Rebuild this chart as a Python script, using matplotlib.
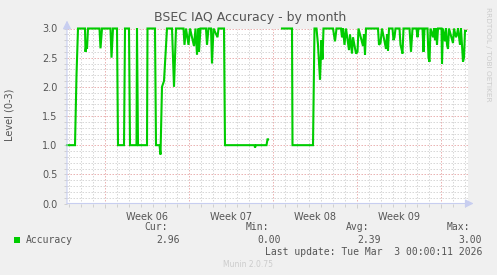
import numpy as np
import matplotlib
matplotlib.use('Agg')
import matplotlib.pyplot as plt
from matplotlib.ticker import FixedLocator

# hours since start of graph (Thu Jan 29 2026), 2 h per sample
hours = [0, 16, 19, 22, 36, 37, 39, 40, 42, 65, 67, 70, 87, 89, 92, 100, 102, 114, 116, 124,
         126, 139, 140, 142, 160, 161, 176, 178, 185, 187, 190, 194, 200, 210, 214, 218, 233, 235,
         238, 243, 246, 254, 257, 260, 263, 264, 267, 278, 280, 283, 288, 290, 293, 301, 303, 314,
         316, 375, 376, 378, 399, 401, 402, 403,
         430, 450, 451, 492, 495, 499, 502, 506, 509, 511, 513, 532, 536, 539, 548, 550, 552, 555,
         558, 564, 566, 570, 572, 578, 581, 583, 592, 594, 596, 598, 622, 624, 627, 630, 638, 640,
         642, 644, 651, 653, 655, 657, 665, 667, 669, 671, 673, 685, 688, 691, 699, 701, 703, 711,
         713, 715, 721, 723, 725, 727, 732, 734, 736, 738, 740, 742, 749, 750, 752, 756, 758, 760,
         762, 764, 772, 774, 778, 780, 782, 786, 788, 790, 792, 794, 796, 798]
accuracy = [1.0, 1.0, 2.2, 3.0, 3.0, 2.6, 2.75, 2.65, 3.0, 3.0, 2.66, 3.0, 3.0, 2.5, 3.0, 3.0, 1.0, 1.0, 3.0, 3.0,
            1.0, 1.0, 3.0, 1.0, 1.0, 3.0, 3.0, 1.0, 1.0, 0.84, 2.0, 2.1, 3.0, 3.0, 2.0, 3.0, 3.0, 2.72,
            3.0, 2.72, 3.0, 2.7, 3.0, 2.55, 3.0, 2.6, 3.0, 3.0, 2.72, 3.0, 3.0, 2.4, 3.0, 2.85, 3.0, 3.0,
            1.0, 1.0, 0.96, 1.0, 1.0, 1.1, 1.1, np.nan,
            3.0, 3.0, 1.0, 1.0, 3.0, 3.0, 2.72, 2.12, 2.8, 2.47, 3.0, 3.0, 2.78, 3.0, 3.0, 2.85, 3.0, 2.72,
            3.0, 2.63, 2.9, 2.57, 2.85, 2.57, 2.6, 3.0, 2.7, 2.9, 2.55, 3.0, 3.0, 2.72, 2.75, 3.0, 2.65, 2.9,
            2.62, 3.0, 3.0, 2.8, 2.85, 3.0, 3.0, 2.72, 2.65, 2.57, 3.0, 3.0, 2.6, 3.0, 3.0, 2.85, 3.0, 3.0,
            2.6, 3.0, 3.0, 2.5, 2.43, 3.0, 2.85, 3.0, 2.8, 3.0, 2.72, 3.0, 3.0, 2.4, 3.0, 2.78, 3.0, 2.72,
            2.65, 3.0, 2.75, 3.0, 2.85, 2.9, 3.0, 2.72, 3.0, 2.7, 2.43, 2.5, 2.96, 2.96]

week_labels = ['Week 06', 'Week 07', 'Week 08', 'Week 09']
week_starts = [76, 244, 412, 580, 748]
stat_names = ['Cur:', 'Min:', 'Avg:', 'Max:']
stat_values = ['2.96', '0.00', '2.39', '3.00']
last_update = 'Last update: Tue Mar  3 00:00:11 2026'

W, H = 497, 275
BG = '#F0F0F0'
FONT = '#555555'
AXIS = '#C8CEF0'
GREEN = '#00CC00'

fig = plt.figure(figsize=(W / 100, H / 100), dpi=100, facecolor=BG)
# plot area in pixels: x 67..468, y 28.5..203.5
ax = fig.add_axes([67 / W, 1 - 203.5 / H, 401 / W, 175 / H])
ax.set_facecolor('white')
ax.set_xlim(0, 802)
ax.set_ylim(0, 3)

for s in ax.spines.values():
    s.set_visible(False)

ax.yaxis.set_major_locator(FixedLocator(np.arange(0, 3.01, 0.5)))
ax.yaxis.set_minor_locator(FixedLocator(np.arange(0, 3.01, 0.1)))
ax.set_yticklabels(['%.1f' % v for v in np.arange(0, 3.01, 0.5)])
ax.xaxis.set_major_locator(FixedLocator(week_starts))
ax.xaxis.set_minor_locator(FixedLocator(np.arange(4, 802, 24)))
ax.set_xticklabels([])

ax.grid(True, which='minor', color='#D8D8D8', linestyle=(0, (1.5, 1.5)), linewidth=0.72)
ax.grid(True, which='major', color='#EAB4B4', linestyle=(0, (1.5, 1.5)), linewidth=0.72)
ax.set_axisbelow(True)

ax.tick_params(which='both', direction='out', colors='#D0D0D0', labelcolor=FONT,
               labelsize=7, width=0.72)
ax.tick_params(which='major', length=3, pad=5)
ax.tick_params(which='minor', length=2)
ax.tick_params(axis='y', which='both', length=2)

ax.plot(hours, accuracy, color=GREEN, linewidth=1.5, solid_joinstyle='miter', zorder=3,
        clip_on=False)

# axes with arrows
ax.annotate('', xy=(0, 1.045), xytext=(0, 0), xycoords='axes fraction',
            arrowprops=dict(arrowstyle='-|>,head_length=0.5,head_width=0.25', color=AXIS, lw=0.8,
                            shrinkA=0, shrinkB=0), annotation_clip=False)
ax.annotate('', xy=(1.014, 0), xytext=(0, 0), xycoords='axes fraction',
            arrowprops=dict(arrowstyle='-|>,head_length=0.5,head_width=0.25', color=AXIS, lw=0.8,
                            shrinkA=0, shrinkB=0), annotation_clip=False)

for i, lab in enumerate(week_labels):
    mid = (week_starts[i] + week_starts[i + 1]) / 2
    ax.text(mid, -0.05, lab, transform=ax.get_xaxis_transform(), ha='center', va='top',
            fontsize=7, color=FONT)

fig.text(250 / W, 1 - 18 / H, 'BSEC IAQ Accuracy - by month', ha='center', va='center',
         fontsize=9, color=FONT)
fig.text(10 / W, 1 - 115 / H, 'Level (0-3)', ha='center', va='center', rotation=90,
         fontsize=7, color=FONT)
fig.text(488 / W, 1 - 54 / H, 'RRDTOOL / TOBI OETIKER', ha='center', va='center', rotation=270,
         fontsize=5.3, color='#CCCCCC')

mono = 'DejaVu Sans Mono'
fig.patches.append(plt.Rectangle((14 / W, 1 - 243 / H), 6 / W, 6 / H, transform=fig.transFigure,
                                 facecolor=GREEN, edgecolor='none'))
fig.text(26 / W, 1 - 240 / H, 'Accuracy', ha='left', va='center', fontsize=7, color=FONT, family=mono)
name_right = [168, 269, 369, 470]
for i in range(4):
    fig.text(name_right[i] / W, 1 - 227.5 / H, stat_names[i], ha='right', va='center',
             fontsize=7, color=FONT, family=mono)
    fig.text((name_right[i] + 12) / W, 1 - 240 / H, stat_values[i], ha='right', va='center',
             fontsize=7, color=FONT, family=mono)
fig.text(482 / W, 1 - 252 / H, last_update, ha='right', va='center', fontsize=7, color=FONT, family=mono)
fig.text(248 / W, 1 - 264.5 / H, 'Munin 2.0.75', ha='center', va='center', fontsize=5.5, color='#CCCCCC')

fig.savefig('out.png', dpi=100, facecolor=BG)
